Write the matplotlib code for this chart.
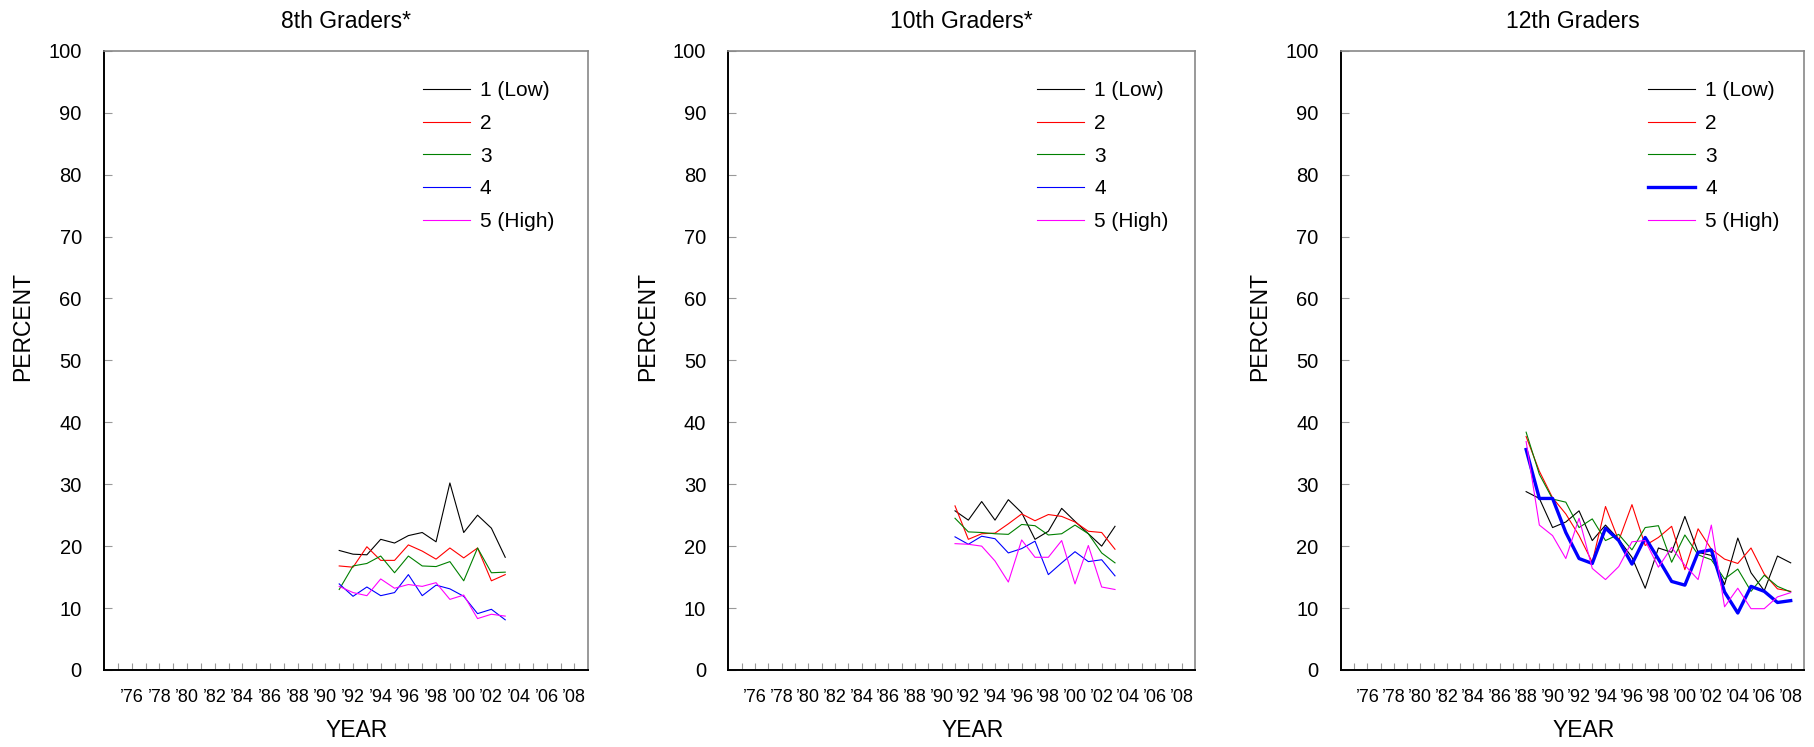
import matplotlib
matplotlib.use("Agg")
import matplotlib.pyplot as plt

plt.rcParams['font.family'] = ['Liberation Sans', 'DejaVu Sans']

# --- data (percent) ---------------------------------------------------------
years_8 = list(range(1991, 2004))
g8_low  = [19.3, 18.7, 18.6, 21.1, 20.5, 21.7, 22.2, 20.7, 30.2, 22.2, 25.0, 22.9, 18.2]
g8_2    = [16.8, 16.6, 19.9, 17.7, 17.7, 20.2, 19.2, 17.9, 19.7, 18.1, 19.7, 14.4, 15.4]
g8_3    = [13.0, 16.8, 17.2, 18.4, 15.7, 18.4, 16.8, 16.7, 17.5, 14.4, 19.7, 15.7, 15.8]
g8_4    = [13.9, 11.9, 13.4, 12.0, 12.5, 15.4, 12.0, 13.7, 13.1, 11.9, 9.1, 9.8, 8.1]
g8_high = [13.5, 12.5, 12.0, 14.7, 13.2, 13.8, 13.5, 14.1, 11.4, 12.1, 8.3, 9.0, 8.7]

years_10 = list(range(1991, 2004))
g10_low  = [25.7, 24.2, 27.2, 24.2, 27.5, 25.4, 21.1, 22.4, 26.1, 24.0, 22.0, 20.0, 23.2]
g10_2    = [26.5, 21.1, 22.0, 22.1, 23.6, 25.2, 24.1, 25.1, 24.8, 23.9, 22.4, 22.2, 19.5]
g10_3    = [24.5, 22.3, 22.2, 22.0, 21.9, 23.5, 23.3, 21.8, 22.0, 23.4, 22.0, 18.9, 17.3]
g10_4    = [21.5, 20.3, 21.6, 21.2, 18.9, 19.6, 20.8, 15.4, 17.3, 19.1, 17.5, 17.8, 15.2]
g10_high = [20.4, 20.3, 20.0, 17.6, 14.2, 21.0, 18.2, 18.2, 20.9, 13.9, 20.1, 13.4, 13.0]

years_12 = list(range(1988, 2009))
g12_low  = [28.8, 27.7, 23.0, 23.9, 25.7, 20.9, 23.4, 21.1, 18.2, 13.2, 19.7,
            19.0, 24.8, 19.0, 18.5, 13.8, 21.3, 15.7, 12.8, 18.4, 17.3]
g12_2    = [37.7, 32.1, 27.8, 25.2, 21.7, 17.4, 26.4, 20.9, 26.7, 20.1, 21.4,
            23.2, 16.2, 22.8, 19.5, 17.9, 17.2, 19.7, 15.5, 13.1, 12.7]
g12_3    = [38.4, 31.6, 27.6, 27.1, 23.0, 24.4, 20.9, 21.9, 19.4, 23.0, 23.3,
            17.4, 21.8, 18.6, 17.8, 14.7, 16.3, 12.7, 15.3, 13.5, 12.6]
g12_4    = [35.6, 27.7, 27.7, 22.2, 18.0, 17.2, 22.9, 20.9, 17.1, 21.4, 17.9,
            14.3, 13.7, 19.0, 19.4, 12.6, 9.2, 13.5, 12.7, 10.9, 11.2]
g12_high = [36.9, 23.4, 21.7, 18.0, 24.5, 16.4, 14.6, 16.7, 20.7, 20.9, 16.6,
            19.8, 16.9, 14.6, 23.4, 10.2, 13.2, 9.9, 9.9, 11.8, 12.5]

labels = ['1 (Low)', '2', '3', '4', '5 (High)']
colors = ['black', '#ff0000', '#008000', '#0000ff', '#ff00ff']
titles = ['8th Graders*', '10th Graders*', '12th Graders']

tick_years = list(range(1975, 2009))
tick_labels = ['\u2019%02d' % (y % 100) if y % 2 == 0 else '' for y in tick_years]

panels = [
    (years_8, [g8_low, g8_2, g8_3, g8_4, g8_high], None),
    (years_10, [g10_low, g10_2, g10_3, g10_4, g10_high], None),
    (years_12, [g12_low, g12_2, g12_3, g12_4, g12_high], 3),  # series 4 drawn bold
]

# axes boxes in figure fractions (left, bottom, width, height)
boxes = [(0.0573, 0.1031, 0.2668, 0.8290),
         (0.4013, 0.1031, 0.2571, 0.8290),
         (0.7388, 0.1031, 0.2551, 0.8290)]
leg_x = [0.658, 0.661, 0.663]

fig = plt.figure(figsize=(18.15, 7.47), dpi=100)

for k, (yrs, series, bold) in enumerate(panels):
    ax = fig.add_axes(boxes[k])
    for i, vals in enumerate(series):
        lw = 2.4 if i == bold else 0.8
        ax.plot(yrs, vals, color=colors[i], lw=lw, label=labels[i])
    ax.set_xlim(1974, 2009)
    ax.set_ylim(0, 100)
    ax.set_yticks(range(0, 101, 10))
    ax.set_xticks(tick_years)
    ax.set_xticklabels(tick_labels, fontsize=13)
    ax.tick_params(axis='x', direction='in', length=5, color='#999999', pad=14)
    ax.tick_params(axis='y', direction='in', length=6, color='#999999', pad=16, labelsize=14.5)
    for s in ['left', 'bottom']:
        ax.spines[s].set_color('black')
        ax.spines[s].set_linewidth(1.4)
    for s in ['top', 'right']:
        ax.spines[s].set_color('#888888')
        ax.spines[s].set_linewidth(1.2)
    ax.set_title(titles[k], fontsize=16.5, pad=16)
    ax.set_ylabel('PERCENT', fontsize=16.5)
    ax.set_xlabel('YEAR', fontsize=16.5)
    w_px = boxes[k][2] * 1815
    ax.yaxis.set_label_coords(-81 / w_px, 0.555)
    ax.xaxis.set_label_coords(0.5 + 11 / w_px, -0.098)
    ax.xaxis.label.set_va('center')
    ax.yaxis.label.set_va('center')
    ax.legend(loc='upper left', bbox_to_anchor=(leg_x[k], 0.951), frameon=False,
              fontsize=15, handlelength=2.25, handletextpad=0.5,
              labelspacing=0.66, borderpad=0, borderaxespad=0)

fig.savefig('out.png', dpi=100)
